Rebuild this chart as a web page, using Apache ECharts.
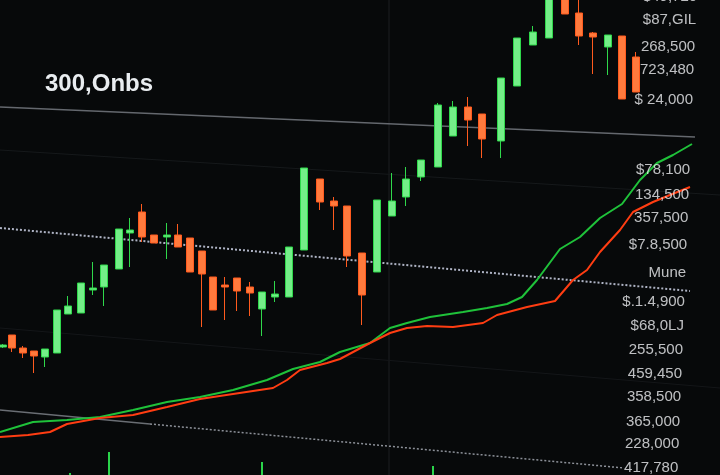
<!DOCTYPE html>
<html>
<head>
<meta charset="utf-8">
<script src="https://cdn.jsdelivr.net/npm/echarts@6/dist/echarts.min.js"></script>
<style>
html,body{margin:0;padding:0;background:#07090a}
#chart{width:720px;height:475px}
</style>
</head>
<body>
<div id="chart"></div>
<script>
// candles: [x, open, close, low, high] (level = height above the bottom edge)
const candles = [
  [3,128,130,127,131],[12,140,127,123,140],[23,127,122,117,129],[34,124,119,102,124],
  [45,118,126,108,126],[57,122,165,122,165],[68,161,169,161,179],[81,162,192,162,192],
  [93,185,187,180,213],[104,188,210,169,210],[119,206,246,206,246],[130,242,245,208,257],
  [142,263,238,233,271],[154,240,232,232,240],[167,238,240,216,252],[178,240,228,228,251],
  [190,237,203,203,237],[202,224,201,148,224],[213,198,165,165,198],[225,190,188,155,198],
  [237,197,184,164,197],[250,188,182,159,193],[262,166,183,139,183],[275,178,181,173,194],
  [289,178,228,178,228],[304,225,307,225,307],[320,296,273,265,296],[334,274,269,245,278],
  [347,269,219,208,269],[362,222,180,150,222],[377,203,275,203,275],[392,259,274,259,302],
  [406,278,296,269,308],[421,298,315,294,315],[438,308,370,308,372],[453,339,368,339,374],
  [468,368,355,329,378],[482,361,336,317,361],[501,334,397,317,397],[517,389,437,389,437],
  [533,430,443,430,449],[549,437,485,437,485],[565,480,461,461,480],[579,462,439,430,480],
  [593,442,438,401,443],[608,428,440,400,440],[622,439,376,376,439],[636,418,383,383,423]
];

const greenLine = [
  [0,43],[33,53],[67,55],[100,58],[133,65],[167,73],[200,78],[233,85],[267,95],[293,106],
  [320,113],[340,123],[370,132],[390,147],[407,152],[430,158],[463,163],[487,167],[507,171],
  [522,178],[537,195],[560,226],[580,238],[600,257],[622,271],[640,295],[657,312],[673,320],[692,331]
];
const redLine = [
  [0,38],[28,40],[50,43],[67,51],[100,57],[133,60],[167,68],[200,76],[233,81],[273,87],
  [287,95],[300,105],[327,112],[340,116],[370,132],[390,142],[407,147],[427,149],[453,148],
  [483,152],[497,160],[527,168],[555,174],[573,195],[587,205],[600,223],[620,245],[633,263],
  [653,273],[670,280],[690,288]
];

const volume = [[70,2],[109,23],[262,13],[433,9]];

const priceLabels = ['$49,720','$87,GIL','268,500','723,480','$ 24,000','$78,100','134,500','357,500',
  '$7.8,500','Mune','$.1.4,900','$68,0LJ','255,500','459,450','358,500','365,000','228,000','417,780'];
const labelLevels = [478,455,428,405,375,305,280,257,230,202,173,149,125,101,78,53,31,7];

// screen rules, tilted by the camera angle
const topRule = [[0,368],[695,338]];
const faintRuleHigh = [[0,325],[720,280]];
const dottedRule = [[0,247],[690,184]];
const faintRuleLow = [[0,147],[720,87]];
const bottomRuleSolid = [[0,65],[150,51]];
const bottomRuleDotted = [[150,51],[624,7]];
const verticalRule = [[389,0],[389,475]];

const chart = echarts.init(document.getElementById('chart'));

function rule(data, color, width, type) {
  return {
    type: 'line', data: data, symbol: 'none', silent: true, z: 1,
    lineStyle: { color: color, width: width, type: type || 'solid' }
  };
}

const option = {
  backgroundColor: '#07090a',
  animation: false,
  title: {
    text: '300,Onbs', left: 45, top: 72, padding: 0,
    textStyle: { color: '#e9edf0', fontSize: 24, fontWeight: 'bold', fontFamily: 'Liberation Sans' }
  },
  grid: { left: 0, right: 0, top: 0, bottom: 0 },
  xAxis: { type: 'value', min: 0, max: 720, show: false },
  yAxis: { type: 'value', min: 0, max: 475, show: false },
  series: [
    rule(verticalRule, '#1c1f21', 1),
    rule(faintRuleHigh, '#16191b', 1),
    rule(faintRuleLow, '#141618', 1),
    rule(topRule, '#64686e', 1.5),
    rule(dottedRule, '#aeb3c4', 2, [2, 2]),
    rule(bottomRuleSolid, '#6a6e74', 1.5),
    rule(bottomRuleDotted, '#8c9098', 1.5, [2, 2]),
    {
      type: 'candlestick',
      data: candles,
      encode: { x: 0, y: [1, 2, 3, 4] },
      barWidth: 7,
      z: 3,
      itemStyle: {
        color: '#74ee88', borderColor: '#2fd84b',
        color0: '#ff7a3d', borderColor0: '#ff5a1e',
        borderWidth: 1
      }
    },
    {
      type: 'line', data: greenLine, symbol: 'none', z: 4,
      lineStyle: { color: '#1fc23a', width: 2 }
    },
    {
      type: 'line', data: redLine, symbol: 'none', z: 4,
      lineStyle: { color: '#ff3d12', width: 2 }
    },
    {
      type: 'bar', data: volume, barWidth: 2, z: 2,
      itemStyle: { color: '#2ad44a' }
    },
    {
      type: 'scatter', symbolSize: 0, clip: false, silent: true, z: 5,
      data: labelLevels.map((h, i) => ({ value: [697 - 0.04 * (475 - h), h], name: priceLabels[i] })),
      label: {
        show: true, position: 'left', distance: 0,
        formatter: p => p.name,
        color: '#eceef0', fontSize: 15, fontFamily: 'Liberation Sans'
      }
    }
  ]
};

chart.setOption(option);
</script>
</body>
</html>
